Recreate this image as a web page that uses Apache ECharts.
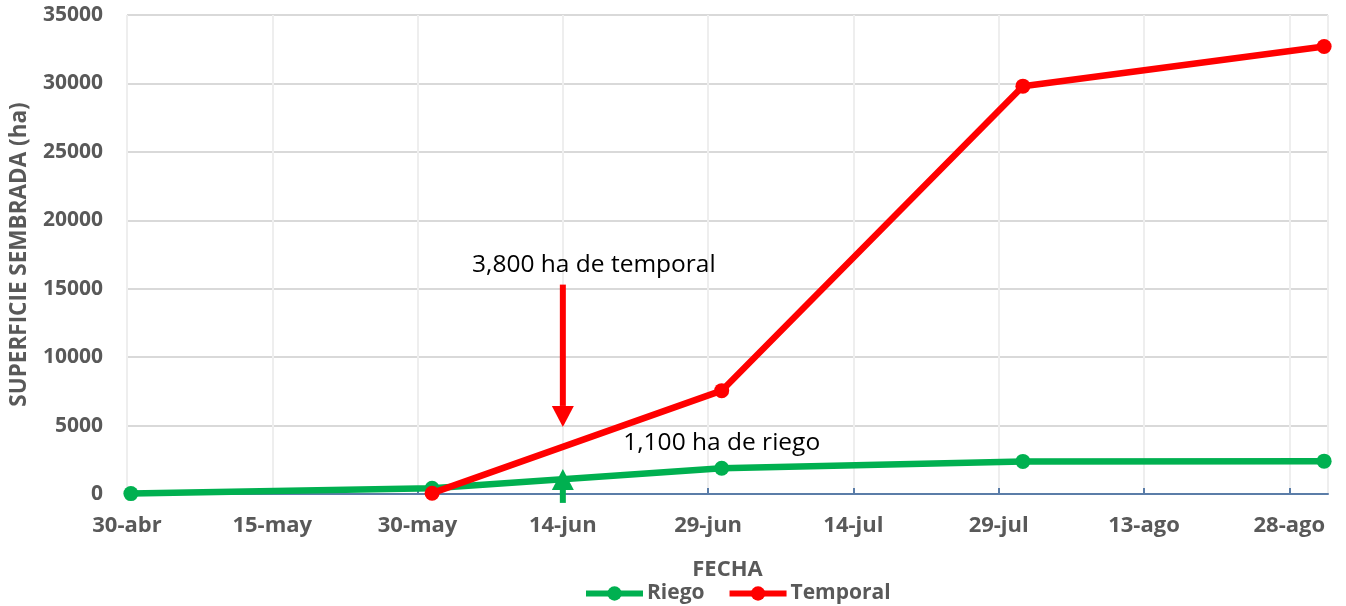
<!DOCTYPE html>
<html>
<head>
<meta charset="utf-8">
<script src="https://cdn.jsdelivr.net/npm/echarts@6/dist/echarts.min.js"></script>
<style>html,body{margin:0;padding:0;background:#fff}#c{width:1346px;height:606px}</style>
</head>
<body>
<div id="c"></div>
<script>
// x values are days counted from 30-abr
const tickLabels = ['30-abr','15-may','30-may','14-jun','29-jun','14-jul','29-jul','13-ago','28-ago'];
const riegoDays = [0.4, 31.5, 61.4, 92.5, 123.6];
const riegoValues = [30, 420, 1880, 2380, 2400];
const temporalDays = [31.5, 61.4, 92.5, 123.6];
const temporalValues = [60, 7550, 29800, 32700];
const seriesNames = ['Riego', 'Temporal'];
const annotTemporal = {text: '3,800 ha de temporal', day: 45, textDay: 48.2, textValue: 16750, from: 15300, tip: 4900};
const annotRiego = {text: '1,100 ha de riego', day: 45, textDay: 61.4, textValue: 3700, from: -650, tip: 1830};

const GREEN = '#00B050', RED = '#FF0000', GRAY = '#595959';
const FONT = 'Open Sans';
const pairs = (xs, ys) => xs.map((x, i) => [x, ys[i]]);

const chart = echarts.init(document.getElementById('c'));
chart.setOption({
  animation: false,
  grid: {left: 127, right: 18, top: 15, bottom: 112, show: true, borderColor: '#d9d9d9', borderWidth: 1},
  xAxis: {
    type: 'value', min: 0, max: 124, interval: 15,
    name: 'FECHA', nameLocation: 'middle', nameGap: 65,
    nameTextStyle: {color: GRAY, fontFamily: FONT, fontWeight: 'bold', fontSize: 22},
    axisLine: {show: true, lineStyle: {color: '#5B7DA8', width: 2}},
    axisTick: {show: true, inside: true, length: 6, lineStyle: {color: '#5B7DA8', width: 2}},
    axisLabel: {
      color: GRAY, fontFamily: FONT, fontWeight: 'bold', fontSize: 22, margin: 21,
      showMaxLabel: false,
      formatter: v => tickLabels[Math.round(v / 15)] || ''
    },
    splitLine: {show: true, lineStyle: {color: '#eeeeee', width: 2}}
  },
  yAxis: {
    type: 'value', min: 0, max: 35000, interval: 5000,
    name: 'SUPERFICIE SEMBRADA (ha)', nameLocation: 'middle', nameGap: 96,
    nameTextStyle: {color: GRAY, fontFamily: FONT, fontWeight: 'bold', fontSize: 22.5},
    axisLine: {show: false}, axisTick: {show: false},
    axisLabel: {color: GRAY, fontFamily: FONT, fontWeight: 'bold', fontSize: 21, margin: 24, formatter: v => String(v)},
    splitLine: {lineStyle: {color: '#d9d9d9', width: 2}}
  },
  legend: {
    top: 583, left: 583, padding: 0,
    itemWidth: 57, itemHeight: 18, itemGap: 22,
    lineStyle: {width: 6},
    textStyle: {color: GRAY, fontFamily: FONT, fontWeight: 'bold', fontSize: 21, padding: [0, 0, 0, -1]},
    data: seriesNames
  },
  series: [
    {
      name: seriesNames[0], type: 'line', data: pairs(riegoDays, riegoValues),
      symbol: 'circle', symbolSize: 15, clip: false, z: 3,
      lineStyle: {color: GREEN, width: 6.5}, itemStyle: {color: GREEN},
      markPoint: {
        silent: true, symbol: 'circle', symbolSize: 0,
        label: {show: true, position: 'inside', color: '#000', fontFamily: FONT, fontSize: 24.5, formatter: annotRiego.text},
        data: [{coord: [annotRiego.textDay, annotRiego.textValue]}]
      }
    },
    {
      name: seriesNames[1], type: 'line', data: pairs(temporalDays, temporalValues),
      symbol: 'circle', symbolSize: 15, clip: false, z: 4,
      lineStyle: {color: RED, width: 6.5}, itemStyle: {color: RED},
      markPoint: {
        silent: true, symbol: 'circle', symbolSize: 0,
        label: {show: true, position: 'inside', color: '#000', fontFamily: FONT, fontSize: 24.5, formatter: annotTemporal.text},
        data: [{coord: [annotTemporal.textDay, annotTemporal.textValue]}]
      }
    }
  ]
});

// annotation arrows, placed through the chart's own scales
function arrow(a, color, down) {
  const p0 = chart.convertToPixel({gridIndex: 0}, [a.day, a.from]);
  const pt = chart.convertToPixel({gridIndex: 0}, [a.day, a.tip]);
  const headH = 21, headW = 22;
  const baseY = down ? pt[1] - headH : pt[1] + headH;
  return [
    {type: 'line', z: 10, silent: true, shape: {x1: p0[0], y1: p0[1], x2: pt[0], y2: baseY}, style: {stroke: color, lineWidth: 6}},
    {type: 'polygon', z: 10, silent: true, shape: {points: [[pt[0] - headW / 2, baseY], [pt[0] + headW / 2, baseY], [pt[0], pt[1]]]}, style: {fill: color}}
  ];
}
chart.setOption({graphic: [...arrow(annotTemporal, RED, true), ...arrow(annotRiego, GREEN, false)]});
</script>
</body>
</html>
